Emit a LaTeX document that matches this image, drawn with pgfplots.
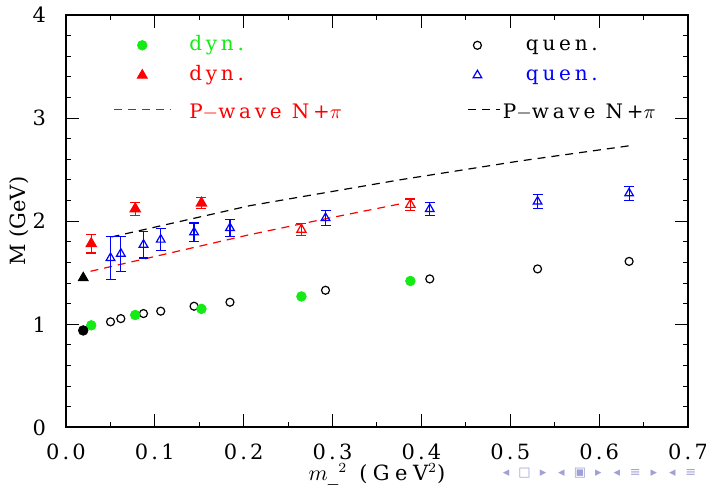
\documentclass[border=0pt]{standalone}
\usepackage{fontspec}
\setmainfont{DejaVu Serif}[LetterSpace=15]
\newfontfamily\legfont{DejaVu Serif}[LetterSpace=19]
\newfontfamily\xlabfont{DejaVu Serif}[LetterSpace=26]
\newfontfamily\labfont{DejaVu Serif}
\newfontfamily\symfont{DejaVu Sans}
\usepackage{pgfplots}
\pgfplotsset{compat=1.18}
\usetikzlibrary{calc}
\definecolor{dgreen}{RGB}{20,235,20}
\definecolor{navc}{RGB}{160,160,215}
\pgfplotsset{
  limgL/.style={legend image code/.code={\draw[##1] plot coordinates {(14.25pt,0pt)};}},
  limgR/.style={legend image code/.code={\draw[##1] plot coordinates {(4.5pt,0pt)};}},
  ldashL/.style={legend image code/.code={\draw[##1] (0pt,0pt) -- (28.5pt,0pt);}},
  ldashR/.style={legend image code/.code={\draw[##1] (0pt,0pt) -- (16pt,0pt);}},
}
\newcommand{\nv}[1]{\makebox[9.25pt]{#1}}
\newcommand{\lf}{\legfont\fontsize{10}{12}\selectfont}

\begin{document}
\begin{tikzpicture}
\begin{axis}[
  name=ax,
  scale only axis, width=311.5pt, height=206.5pt,
  clip mode=individual,
  xmin=0, xmax=0.7, ymin=0, ymax=4,
  xtick={0,0.1,0.2,0.3,0.4,0.5,0.6,0.7}, minor x tick num=1,
  xticklabels={0.0,0.1,0.2,0.3,0.4,0.5,0.6,0.7},
  ytick={0,1,2,3,4}, minor y tick num=4,
  tick align=inside, major tick length=6.5pt, minor tick length=2.5pt,
  every tick/.style={black, line width=0.5pt},
  axis line style={line width=0.9pt},
  /pgf/number format/assume math mode=true,
  tick label style={font=\fontsize{10.5}{12}\selectfont},
  xticklabel style={anchor=center, inner sep=0pt, yshift=-12.5pt},
  yticklabel style={anchor=east, inner sep=0pt, xshift=-9.8pt},
  xlabel={$m$\_$^{2}$ (GeV$^{2}$)},
  xlabel style={at={($(rel axis cs:0.5,0)+(0,-23.5pt)$)}, anchor=center, inner sep=0pt,
    font=\xlabfont\fontsize{10.5}{12}\selectfont},
  ylabel={M\ (GeV)},
  ylabel style={at={($(rel axis cs:0,0.5)+(-23.5pt,0)$)}, anchor=center, inner sep=0pt,
    font=\labfont\fontsize{10.5}{12}\selectfont},
  legend cell align=left,
  legend style={draw=none, fill=none, inner sep=0pt, anchor=north west,
    at={(rel axis cs:0.0754,0.9516)},
    nodes={inner sep=0pt, text height=7.5pt, text depth=2.5pt},
    row sep=5pt, column sep=0pt,
    /tikz/column 1/.style={column sep=9pt},
    /tikz/column 2/.style={column sep=63pt},
    /tikz/column 3/.style={column sep=1pt}},
  legend columns=2,
]
% quenched, open circles
\addplot[only marks, mark=o, mark size=2pt, black, line width=0.6pt, forget plot] coordinates {
  (0.0502,1.024) (0.0618,1.055) (0.0873,1.104) (0.1067,1.127) (0.1442,1.175)
  (0.1846,1.214) (0.2921,1.33) (0.4094,1.44) (0.5307,1.537) (0.6337,1.61)};
% dynamical, filled green circles
\addplot[only marks, mark=*, mark size=2.4pt, dgreen, forget plot] coordinates {
  (0.0285,0.99) (0.078,1.09) (0.1525,1.15) (0.265,1.27) (0.3876,1.42)};
% chiral limit
\addplot[only marks, mark=*, mark size=2.4pt, black, forget plot] coordinates {(0.0195,0.94)};
\addplot[only marks, mark=triangle*, mark size=2.9pt, black, forget plot] coordinates {(0.0195,1.45)};
% P-wave lines
\addplot[red, dash pattern=on 4pt off 3pt, line width=0.6pt, forget plot] coordinates {
  (0.0277,1.514) (0.2067,1.869) (0.2966,2.031) (0.381,2.176)};
\addplot[black, dash pattern=on 4pt off 3pt, line width=0.6pt, forget plot] coordinates {
  (0.0513,1.847) (0.2067,2.15) (0.375,2.40) (0.510,2.583) (0.6337,2.731)};
% quenched, blue open triangles
\addplot[only marks, mark=triangle, mark size=2.5pt, blue, line width=0.6pt, forget plot,
  error bars/.cd, y dir=both, y explicit,
  error bar style={line width=0.6pt},
  error mark options={rotate=90, mark size=2.5pt, line width=0.6pt}]
  table[x=x, y=y, y error=e] {
  x      y     e
  0.0502 1.643 0.205
  0.0618 1.685 0.17
  0.0873 1.772 0.13
  0.1067 1.821 0.105
  0.1442 1.892 0.09
  0.1846 1.934 0.08
  0.2921 2.031 0.075
  0.4094 2.118 0.065
  0.5307 2.19  0.07
  0.6337 2.27  0.07
};
% dynamical, red triangles
\addplot[only marks, mark=triangle*, mark size=2.9pt, red, line width=0.6pt, forget plot,
  error bars/.cd, y dir=both, y explicit,
  error bar style={line width=0.6pt},
  error mark options={rotate=90, mark size=2.5pt, line width=0.6pt}]
  table[x=x, y=y, y error=e] {
  x      y     e
  0.0285 1.782 0.09
  0.078  2.12  0.065
  0.1525 2.176 0.05
};
\addplot[only marks, mark=triangle, mark size=2.7pt, red, line width=0.6pt, forget plot,
  error bars/.cd, y dir=both, y explicit,
  error bar style={line width=0.6pt},
  error mark options={rotate=90, mark size=2.5pt, line width=0.6pt}]
  table[x=x, y=y, y error=e] {
  x      y     e
  0.265  1.918 0.06
  0.3876 2.16  0.055
};
% legend
\addlegendimage{only marks, mark=*, mark size=2.4pt, dgreen, limgL}
\addlegendentry{\lf\textcolor{dgreen}{dyn.}}
\addlegendimage{only marks, mark=o, mark size=2pt, black, line width=0.6pt, limgR}
\addlegendentry{\lf\hspace*{11.5pt}quen.}
\addlegendimage{only marks, mark=triangle*, mark size=2.9pt, red, limgL}
\addlegendentry{\lf\textcolor{red}{dyn.}}
\addlegendimage{only marks, mark=triangle, mark size=2.5pt, blue, line width=0.6pt, limgR}
\addlegendentry{\lf\hspace*{11.5pt}\textcolor{blue}{quen.}}
\addlegendimage{red, dash pattern=on 4pt off 3pt, line width=0.6pt, ldashL}
\addlegendentry[text height=11.5pt]{\lf\textcolor{red}{P$-$wave N+$\pi$}}
\addlegendimage{black, dash pattern=on 4pt off 3pt, line width=0.6pt, ldashR}
\addlegendentry[text height=11.5pt]{\lf P$-$wave N+$\pi$}
% beamer navigation symbols
\node[anchor=center, text=navc, font=\symfont\fontsize{6.5}{8}\selectfont, inner sep=0pt]
  at ($(rel axis cs:0.856,0)+(0,-23pt)$)
  {\nv{◂}\nv{□}\nv{▸}\nv{◂}\nv{▣}\nv{▸}\nv{◂}\nv{≡}\nv{▸}\nv{◂}\nv{≡}};
\end{axis}
\pgfresetboundingbox
\path[use as bounding box] ([xshift=-33pt,yshift=-30pt]ax.south west)
  rectangle ([xshift=9pt,yshift=7.5pt]ax.north east);
\end{tikzpicture}
\end{document}
